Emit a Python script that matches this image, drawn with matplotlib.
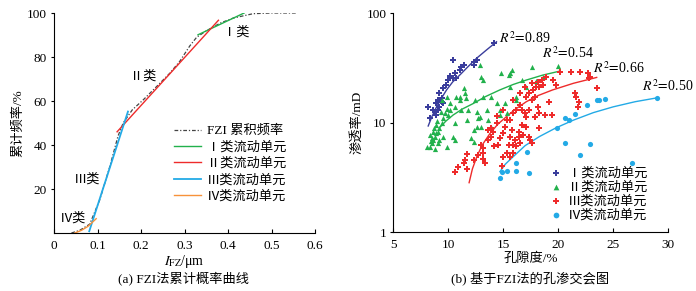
import matplotlib
matplotlib.use('Agg')
import matplotlib.pyplot as plt
import numpy as np

plt.rcParams['font.family'] = ['Liberation Serif', 'Noto Sans CJK SC', 'DejaVu Sans']
plt.rcParams['mathtext.fontset'] = 'stix'
plt.rcParams['font.size'] = 9

###### (a) FZI cumulative frequency
fzi_x = [0.04, 0.059, 0.082, 0.105, 0.128, 0.147, 0.159, 0.18, 0.205, 0.236, 0.266,
         0.289, 0.312, 0.328, 0.351, 0.382, 0.412, 0.458, 0.50, 0.558]
fzi_y = [0, 1.2, 4, 15, 30, 44, 50, 56, 60.5, 66.6, 72.6,
         78, 85, 89, 92, 95.4, 97.7, 99.7, 100, 100]

unit1_x = [0.331, 0.437]
unit1_y = [90.1, 100]
unit2_x = [0.145, 0.378]
unit2_y = [46, 96.7]
unit3_x = [0.081, 0.170]
unit3_y = [0.8, 55.2]
unit4_x = [0.048, 0.063, 0.078, 0.097]
unit4_y = [0, 1.2, 3.0, 6.5]

###### (b) porosity - permeability
c1_phi = [8.18, 8.8, 8.9, 9.1, 9.2, 9.4, 8.9, 9.1, 9.5, 9.2, 9.5, 9.8, 10.0, 10.15,
          10.45, 10.75, 10.6, 11.1, 11.2, 11.4, 10.45, 12.3, 12.3, 12.6, 14.2, 9.45, 8.6, 8.3]
c1_k = [14.0, 12.6, 15.1, 16.2, 14.0, 15.6, 11.8, 13.1, 15.1, 18.6, 20.7, 22.2, 24.6, 26.8,
        25.5, 25.5, 28.4, 30.4, 32.6, 33.8, 37.5, 36.2, 33.8, 37.5, 54.0, 16.8, 13.1, 11.0]

c2_phi = [8.1, 8.33, 8.5, 8.6, 8.8, 8.5, 8.9, 9.1, 8.6, 9.2, 9.4, 8.9, 9.5, 9.7, 9.85,
          10.0, 10.15, 9.2, 9.5, 8.8, 9.1, 9.85, 9.4, 10.6, 10.6, 10.75, 11.1, 11.4, 11.5,
          11.6, 11.8, 11.7, 12.1, 12.3, 12.4, 12.6, 12.7, 12.9, 13.0, 13.2, 13.2, 12.9, 13.0,
          13.5, 13.9, 14.4, 14.7, 14.8, 15.2, 15.5, 15.6, 15.8, 16.2, 16.7, 17.1, 17.6, 18.0,
          18.6, 20.0, 9.85, 10.15, 10.6, 11.2, 11.1, 10.45, 12.3, 13.6, 13.9, 15.3, 16.2,
          15.6, 14.7, 12.6, 8.4, 8.7, 9.0, 9.3, 8.35]
c2_k = [5.97, 6.06, 6.5, 7.0, 7.5, 7.3, 8.0, 8.3, 8.3, 8.9, 9.9, 9.6, 11.0, 12.2, 13.5,
        11.8, 13.1, 7.0, 7.5, 5.8, 6.5, 6.06, 16.2, 9.9, 7.0, 17.4, 17.4, 20.7, 18.6,
        16.7, 13.1, 10.6, 7.2, 6.7, 16.2, 12.6, 11.0, 33.8, 26.3, 24.6, 17.4, 11.4, 9.2,
        13.1, 17.4, 15.1, 13.1, 28.4, 15.1, 27.5, 28.4, 30.4, 17.4, 24.6, 21.3, 32.6, 24.0,
        26.3, 32.9, 17.4, 15.1, 14.0, 13.1, 16.2, 7.5, 8.6, 10.6, 9.2, 12.2, 16.2,
        21.3, 11.8, 9.2, 6.8, 9.0, 10.5, 12.5, 7.8]

c3_phi = [10.6, 10.9, 11.4, 11.5, 11.7, 11.7, 13.0, 13.2, 13.2, 13.3, 13.2, 13.6, 13.9,
          14.1, 14.4, 14.2, 14.5, 14.7, 15.0, 15.2, 14.85, 15.0, 15.3, 15.5, 15.6, 15.8,
          15.6, 15.9, 16.2, 16.5, 16.1, 16.4, 16.5, 15.9, 16.8, 16.7, 17.0, 17.1, 17.3,
          17.1, 17.3, 17.6, 17.7, 17.9, 18.0, 18.2, 18.5, 18.9, 18.3, 17.4, 17.3, 17.6,
          17.9, 18.3, 18.8, 19.4, 19.2, 19.8, 20.2, 21.2, 21.5, 21.6, 21.9, 21.8, 22.0,
          22.7, 22.8, 22.9, 23.5, 17.1, 16.7, 16.4, 15.6, 14.4, 15.3, 15.0, 15.9, 16.5,
          17.0, 17.6, 18.6, 19.5, 18.2, 18.3, 13.6, 13.9, 12.3, 12.7, 15.9, 16.2]
c3_k = [3.58, 3.97, 4.27, 4.6, 5.2, 3.8, 6.3, 5.85, 5.3, 4.3, 4.7, 7.0, 8.9,
        8.3, 9.9, 6.1, 6.3, 7.2, 8.0, 9.2, 4.0, 4.9, 5.3, 6.3, 7.5, 8.6,
        10.6, 12.2, 13.1, 14.6, 7.0, 7.5, 6.5, 6.3, 7.7, 13.1, 12.2, 11.4, 13.1,
        17.4, 18.6, 16.2, 20.0, 17.4, 21.3, 23.7, 24.6, 26.0, 21.3, 7.0, 7.5, 6.5,
        11.4, 12.2, 11.8, 11.8, 15.6, 22.2, 29.2, 29.2, 18.6, 17.4, 15.6, 14.0, 29.2,
        28.4, 25.5, 26.3, 20.7, 9.2, 9.6, 8.3, 4.9, 11.5, 10.6, 13.1, 16.2, 18.6,
        21.3, 22.9, 22.2, 24.6, 14.1, 8.9, 8.6, 7.5, 4.6, 5.1, 5.3, 6.1]

c4_phi = [14.7, 14.9, 15.3, 16.2, 16.2, 17.3, 17.2, 19.9, 20.6, 20.6, 21.0, 21.5, 22.0,
          22.6, 22.9, 23.5, 23.7, 24.3, 26.7, 29.0]
c4_k = [3.11, 3.58, 3.66, 4.3, 3.6, 3.46, 5.4, 9.0, 6.5, 11.0, 10.6, 12.0, 5.1,
        14.5, 6.4, 16.2, 16.2, 16.5, 4.3, 17.0]

# trend curves
t1_phi = [8.18, 8.5, 8.94, 9.4, 9.85, 10.4, 11.06, 11.8, 12.58, 13.5, 14.39]
t1_k = [9.36, 11.3, 14.0, 16.9, 20.0, 23.6, 27.4, 32.6, 38.9, 46.5, 55]
t2_phi = [9.24, 9.8, 10.45, 11.3, 12.27, 13.4, 14.7, 15.9, 17.1, 18.6, 20.15]
t2_k = [9.1, 10.4, 11.8, 13.4, 15.0, 17.4, 20.0, 22.4, 24.6, 27.3, 29.7]
t3_phi = [11.9, 12.2, 12.6, 13.1, 13.8, 14.5, 15.3, 16.1, 17.1, 18.2, 19.5, 21.4, 23.5]
t3_k = [2.84, 3.8, 4.9, 6.3, 8.0, 9.7, 11.4, 13.3, 15.6, 17.8, 20.0, 23.0, 26.0]
t4_phi = [14.7, 15.2, 15.9, 17.0, 18.3, 19.8, 21.4, 23.2, 25.0, 27.0, 29.1]
t4_k = [3.58, 4.2, 4.9, 6.2, 7.5, 9.0, 10.6, 12.4, 14.0, 15.6, 17.0]

r2_text = ['0.89', '0.54', '0.66', '0.50']
r2_pos = [(14.6, 60), (18.5, 43), (23.2, 31.5), (27.6, 21.5)]

green = '#22b14c'
red = '#ee2b2b'
lblue = '#23aae6'
orange = '#f7923a'
purple = '#3a3d9c'

fig = plt.figure(figsize=(6.96, 2.91), dpi=100)
ax1 = fig.add_axes([0.0776, 0.1993, 0.375, 0.756])
ax2 = fig.add_axes([0.565, 0.2017, 0.395, 0.7523])

# ---- left
ax1.plot(fzi_x, fzi_y, color='#444444', linestyle=(0, (3, 1.5, 1, 1.5)), lw=0.9, label='FZI 累积频率')
ax1.plot(unit1_x, unit1_y, color=green, lw=1.0, label='Ⅰ类流动单元')
ax1.plot(unit2_x, unit2_y, color=red, lw=1.0, label='Ⅱ类流动单元')
ax1.plot(unit3_x, unit3_y, color=lblue, lw=1.3, label='Ⅲ类流动单元')
ax1.plot(unit4_x, unit4_y, color=orange, lw=1.0, label='Ⅳ类流动单元')

ax1.text(0.42, 91, 'Ⅰ类', fontsize=9.5, ha='center', va='center')
ax1.text(0.205, 71, 'Ⅱ类', fontsize=9.5, ha='center', va='center')
ax1.text(0.077, 24.5, 'Ⅲ类', fontsize=9.5, ha='center', va='center')
ax1.text(0.043, 6.5, 'Ⅳ类', fontsize=9.5, ha='center', va='center')

ax1.set_xlim(0, 0.6)
ax1.set_ylim(0, 100)
ax1.set_xticks([0, 0.1, 0.2, 0.3, 0.4, 0.5, 0.6])
ax1.set_xticklabels(['0', '0.1', '0.2', '0.3', '0.4', '0.5', '0.6'])
ax1.set_yticks([20, 40, 60, 80, 100])
ax1.spines['top'].set_visible(False)
ax1.spines['right'].set_visible(False)
ax1.tick_params(axis='x', direction='in', length=3, pad=5, labelsize=9.5)
ax1.tick_params(axis='y', direction='out', length=2, pad=3, labelsize=9.5)
ax1.set_xlabel(r'$I_{\rm FZ}$/μm', fontsize=10, labelpad=1)
ax1.set_ylabel('累计频率/%', fontsize=9.5, labelpad=2)
ax1.legend(loc='upper left', bbox_to_anchor=(0.44, 0.515), frameon=False, fontsize=9.5,
           handlelength=2.0, handletextpad=0.5, labelspacing=0.3, borderaxespad=0)
fig.text(0.263, 0.045, '(a) FZI法累计概率曲线', ha='center', va='center', fontsize=9.5)

# ---- right
ax2.scatter(c1_phi, c1_k, marker='P', s=16, color=purple, linewidths=0, label='Ⅰ类流动单元', zorder=3)
ax2.scatter(c2_phi, c2_k, marker='^', s=14, color=green, linewidths=0, label='Ⅱ类流动单元', zorder=3)
ax2.scatter(c3_phi, c3_k, marker='P', s=16, color=red, linewidths=0, label='Ⅲ类流动单元', zorder=3)
ax2.scatter(c4_phi, c4_k, marker='o', s=14, color=lblue, linewidths=0, label='Ⅳ类流动单元', zorder=3)

ax2.plot(t1_phi, t1_k, color=purple, lw=1.0)
ax2.plot(t2_phi, t2_k, color=green, lw=1.0)
ax2.plot(t3_phi, t3_k, color=red, lw=1.0)
ax2.plot(t4_phi, t4_k, color=lblue, lw=1.0)

for txt, (px, py) in zip(r2_text, r2_pos):
    ax2.text(px, py, r'$R^2\!=\!$' + txt, fontsize=10, ha='left', va='center')

ax2.set_xlim(5, 30)
ax2.set_yscale('log')
ax2.set_ylim(1, 100)
ax2.set_xticks([5, 10, 15, 20, 25, 30])
ax2.set_yticks([1, 10, 100])
ax2.set_yticklabels(['1', '10', '100'])
ax2.minorticks_off()
ax2.spines['top'].set_visible(False)
ax2.spines['right'].set_visible(False)
ax2.tick_params(axis='x', direction='in', length=3, pad=5, labelsize=9.5)
ax2.tick_params(axis='y', direction='out', length=2, pad=3, labelsize=9.5)
ax2.set_xlabel('孔隙度/%', fontsize=9.5, labelpad=1)
ax2.set_ylabel('渗透率/mD', fontsize=9.5, labelpad=2)
ax2.legend(loc='upper left', bbox_to_anchor=(0.55, 0.32), frameon=False, fontsize=9.5,
           handlelength=1.0, handletextpad=0.4, labelspacing=0.1, borderaxespad=0,
           markerscale=1.1)
fig.text(0.762, 0.045, '(b) 基于FZI法的孔渗交会图', ha='center', va='center', fontsize=9.5)

fig.savefig('out.png', dpi=100)
